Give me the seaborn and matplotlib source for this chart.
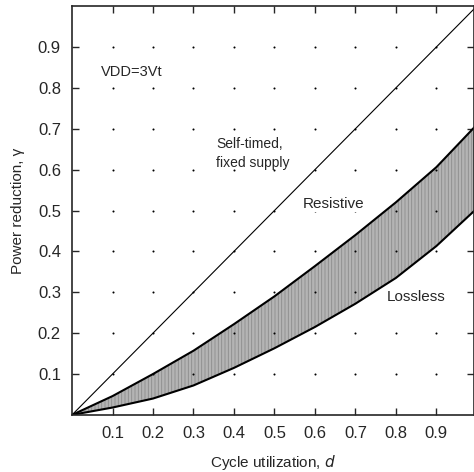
import numpy as np
import pandas as pd
import seaborn as sns
import matplotlib.pyplot as plt

d = [0.0, 0.1, 0.2, 0.3, 0.4, 0.5, 0.6, 0.7, 0.8, 0.9, 1.0]
self_timed = [0.0, 0.1, 0.2, 0.3, 0.4, 0.5, 0.6, 0.7, 0.8, 0.9, 1.0]
resistive = [0.0, 0.046, 0.1, 0.157, 0.222, 0.29, 0.364, 0.44, 0.52, 0.606, 0.71]
lossless = [0.0, 0.018, 0.04, 0.072, 0.115, 0.163, 0.215, 0.272, 0.335, 0.413, 0.505]
ticks = [0.1, 0.2, 0.3, 0.4, 0.5, 0.6, 0.7, 0.8, 0.9]

df = pd.DataFrame({'d': d, 'self': self_timed, 'res': resistive, 'loss': lossless})

sns.set_style('ticks')
plt.rcParams['font.family'] = ['Liberation Sans', 'DejaVu Sans']
plt.rcParams['hatch.linewidth'] = 0.6

fig = plt.figure(figsize=(4.74, 4.72), dpi=100)
ax = fig.add_axes([0.152, 0.121, 0.848, 0.866])

ax.fill_between(df.d, df.loss, df.res, facecolor='#b4b4b4', hatch='|||||',
                edgecolor='#8c8c8c', linewidth=0)
sns.lineplot(x='d', y='self', data=df, ax=ax, color='black', linewidth=0.8)
sns.lineplot(x='d', y='res', data=df, ax=ax, color='black', linewidth=1.5)
sns.lineplot(x='d', y='loss', data=df, ax=ax, color='black', linewidth=1.5)

# little grid dots at every tick crossing
gx, gy = np.meshgrid(ticks, ticks)
ax.scatter(gx.ravel(), gy.ravel(), s=2.2, color='black', linewidths=0, zorder=1)

ax.set_xlim(0, 0.993)
ax.set_ylim(0, 1.0)
ax.set_xticks(ticks)
ax.set_yticks(ticks)
ax.set_xticklabels([f'{t:.1f}' for t in ticks])
ax.set_yticklabels([f'{t:.1f}' for t in ticks])
ax.tick_params(direction='in', length=5, width=1, top=True, right=True,
               labelsize=12, pad=8)
for s in ax.spines.values():
    s.set_linewidth(1.2)

ax.set_xlabel('Cycle utilization, $\\it{d}$', fontsize=11, labelpad=9)
ax.set_ylabel('Power reduction, γ', fontsize=11, labelpad=9)

box = dict(facecolor='white', edgecolor='none', pad=0.5)
ax.text(0.072, 0.84, 'VDD=3Vt', fontsize=10.5, va='center')
ax.text(0.356, 0.64, 'Self-timed,\nfixed supply', fontsize=10, va='center',
        linespacing=1.5)
ax.text(0.57, 0.516, 'Resistive', fontsize=11, va='center', bbox=box, zorder=3)
ax.text(0.778, 0.289, 'Lossless', fontsize=11, va='center', bbox=box, zorder=3)

fig.savefig('out.png', dpi=100)
